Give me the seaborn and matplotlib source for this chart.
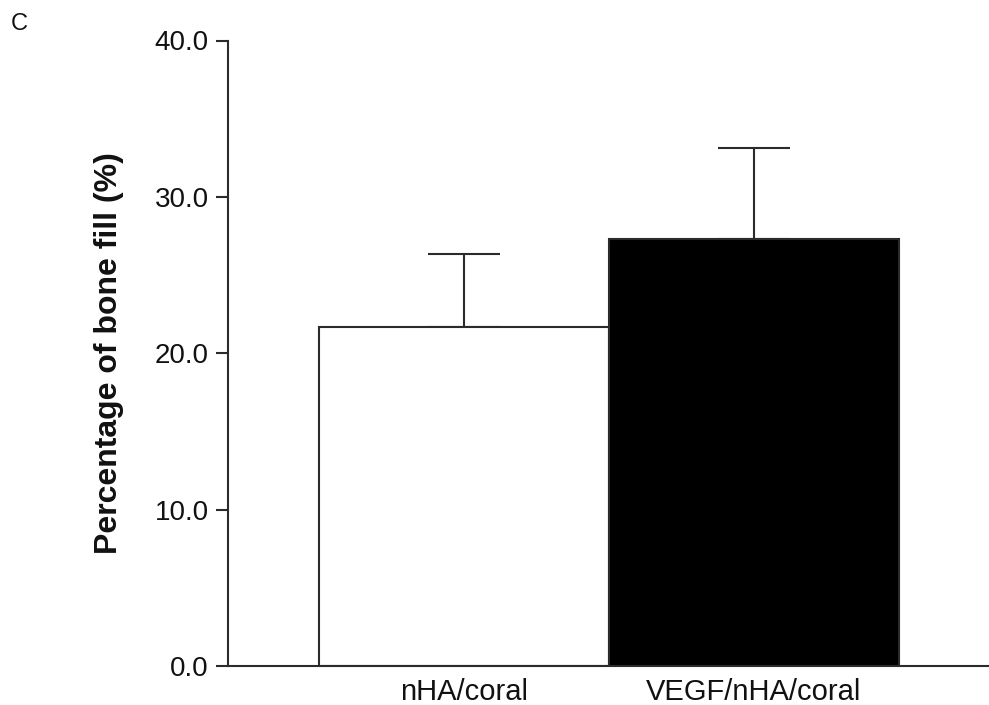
import matplotlib
matplotlib.use("Agg")
import matplotlib.pyplot as plt
import seaborn as sns
import pandas as pd

groups = ["nHA/coral", "VEGF/nHA/coral"]
means = [21.7, 27.3]
sds = [4.65, 5.8]
bar_colors = ["white", "black"]
yticks = [0, 10, 20, 30, 40]

sns.set_theme(style="ticks")
plt.rcParams["font.family"] = ["Liberation Sans", "DejaVu Sans"]
plt.rcParams["text.color"] = "#111111"
plt.rcParams["xtick.labelcolor"] = "#111111"
plt.rcParams["ytick.labelcolor"] = "#111111"

df = pd.DataFrame({"group": groups, "fill": means})

fig = plt.figure(figsize=(9.89, 7.05), dpi=100)
ax = fig.add_axes([228 / 989, 39 / 705, 1 - 228 / 989, 625.5 / 705])

line_c = "#2b2b2b"
sns.barplot(data=df, x="group", y="fill", hue="group", palette=bar_colors,
            width=1.0, edgecolor=line_c, linewidth=1.5, legend=False, ax=ax)

ax.errorbar(range(len(groups)), means, yerr=[[0] * len(sds), sds], fmt="none",
            ecolor=line_c, elinewidth=1.5, capsize=26, capthick=1.5, zorder=0)

ax.set_ylim(0, 40)
ax.set_xlim(-0.815, 1.811)
ax.set_yticks(yticks)
ax.set_yticklabels([f"{v:.1f}" for v in yticks])
ax.set_xlabel("")
ax.set_ylabel("Percentage of bone fill (%)", fontsize=23, fontweight="bold",
              labelpad=22, color="#111111")

for side in ["top", "right"]:
    ax.spines[side].set_visible(False)
for side in ["left", "bottom"]:
    ax.spines[side].set_color(line_c)
    ax.spines[side].set_linewidth(1.5)

ax.tick_params(axis="y", labelsize=20, length=9, width=1.5, color=line_c, pad=5)
ax.tick_params(axis="x", labelsize=21, length=0, pad=9)

fig.text(11 / 989, 1 - 30 / 705, "C", fontsize=17)

fig.savefig("out.png", dpi=100)
